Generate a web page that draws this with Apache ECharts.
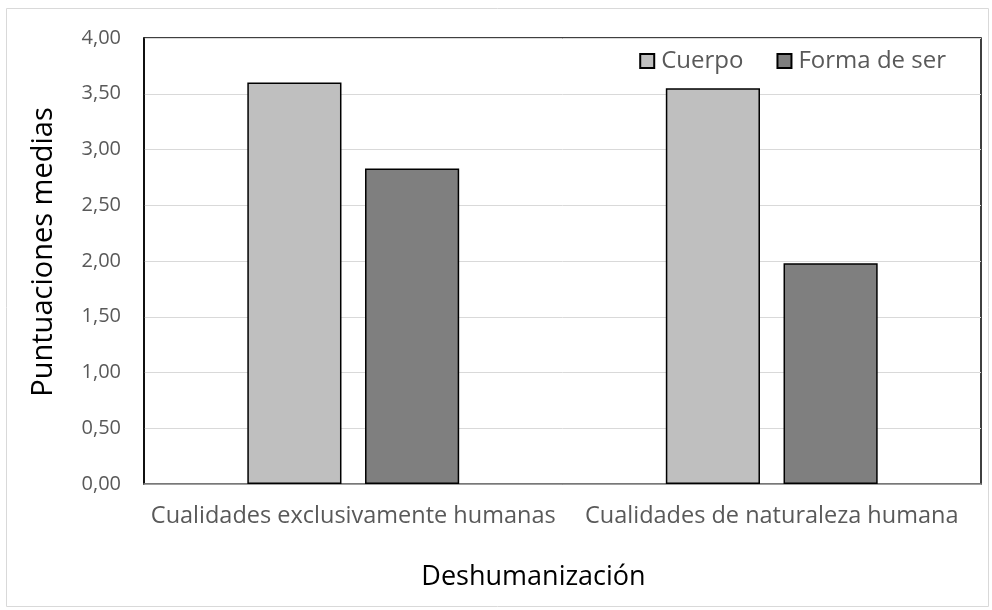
<!DOCTYPE html>
<html>
<head>
<meta charset="utf-8">
<script src="https://cdn.jsdelivr.net/npm/echarts@6/dist/echarts.min.js"></script>
<style>
  html, body { margin: 0; padding: 0; background: #fff; }
  .chart { width: 992px; height: 610px; }
</style>
</head>
<body>
<div class="chart"></div>
<script>
// datos
var categorias = ['Cualidades exclusivamente humanas', 'Cualidades de naturaleza humana'];
var cuerpo = [3.60, 3.55];
var formaDeSer = [2.83, 1.98];

var chartContainer = document.getElementsByClassName("chart")[0];
var chart = echarts.init(chartContainer);

var fuente = '"Open Sans", sans-serif';

var option = {
  animation: false,
  textStyle: { fontFamily: fuente },
  graphic: [{
    type: 'rect',
    shape: { x: 6.5, y: 8.5, width: 982, height: 598 },
    style: { fill: 'none', stroke: '#d9d9d9', lineWidth: 1 }
  }],
  grid: {
    left: 144, right: 11, top: 38, bottom: 126,
    show: true, borderColor: '#000', borderWidth: 1.5, backgroundColor: 'transparent'
  },
  legend: {
    right: 41, top: 44,
    itemWidth: 14, itemHeight: 14, itemGap: 33,
    icon: 'rect',
    textStyle: { fontSize: 24, color: '#595959', fontFamily: fuente, padding: [0, 0, 0, 2] },
    data: ['Cuerpo', 'Forma de ser']
  },
  xAxis: {
    type: 'category',
    data: categorias,
    name: 'Deshumanización',
    nameLocation: 'middle',
    nameGap: 80,
    nameTextStyle: { fontSize: 27, color: '#000', padding: [0, 58, 0, 0] },
    axisLine: { lineStyle: { color: '#8c8c8c', width: 1.5 } },
    axisTick: { show: false },
    axisLabel: { fontSize: 23.5, color: '#595959', margin: 20, interval: 0, hideOverlap: false }
  },
  yAxis: {
    type: 'value',
    min: 0, max: 4, interval: 0.5,
    name: 'Puntuaciones medias',
    nameLocation: 'middle',
    nameGap: 86,
    nameTextStyle: { fontSize: 29, color: '#000', padding: [0, 0, 0, 18] },
    axisLine: { show: true, lineStyle: { color: '#000', width: 1.5 } },
    axisTick: { show: false },
    splitLine: { lineStyle: { color: '#d9d9d9', width: 1 } },
    axisLabel: {
      fontSize: 20, color: '#595959', margin: 23,
      formatter: function (v) { return v.toFixed(2).replace('.', ','); }
    }
  },
  series: [
    {
      name: 'Cuerpo', type: 'bar', data: cuerpo,
      barWidth: '22.5%', barGap: '25%',
      itemStyle: { color: '#bfbfbf', borderColor: '#000', borderWidth: 1.5 }
    },
    {
      name: 'Forma de ser', type: 'bar', data: formaDeSer,
      barWidth: '22.5%',
      itemStyle: { color: '#7f7f7f', borderColor: '#000', borderWidth: 1.5 }
    }
  ]
};

chart.setOption(option);
</script>
</body>
</html>
